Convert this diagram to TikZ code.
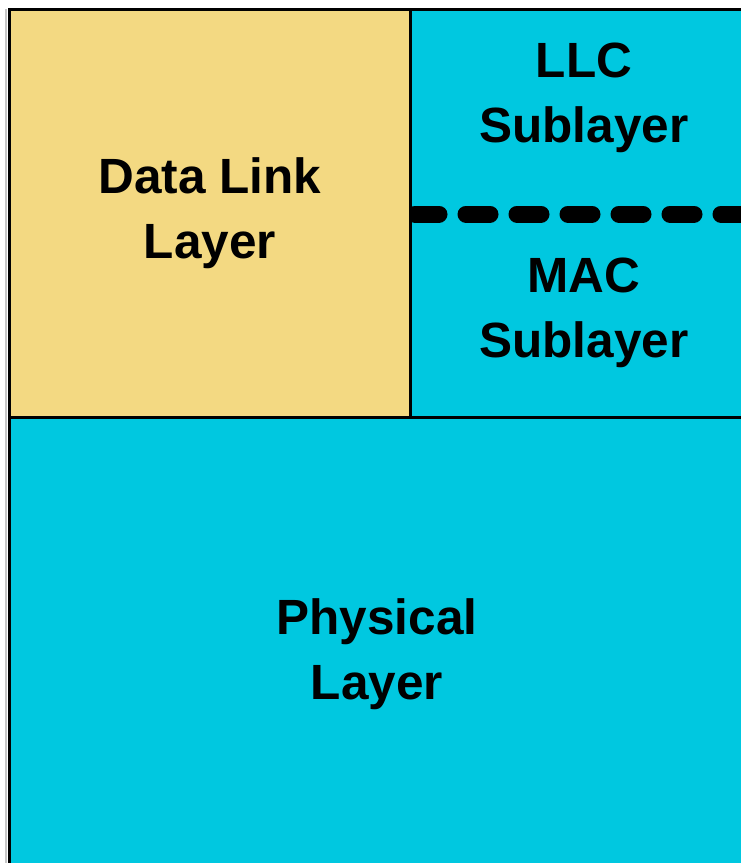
\documentclass[tikz,border=0pt]{standalone}
\usepackage{fontspec}
\setmainfont{Liberation Sans}
\definecolor{dlyellow}{RGB}{243,217,130}
\definecolor{layercyan}{RGB}{0,200,224}
\begin{document}
\begin{tikzpicture}[x=1pt,y=-1pt,
  layerbox/.style={draw=black,line width=3.5pt},
  lbl/.style={font=\fontsize{49.5}{65}\selectfont\bfseries,align=center,text=black,inner sep=0pt,anchor=base}]
\useasboundingbox (0,0) rectangle (741,863);
\begin{scope}
\clip (0,0) rectangle (741,863);
% faint shadow along the left edge
\draw[gray!45,line width=2.5pt] (6,9) -- (6,870);
% data link layer block
\filldraw[layerbox,fill=dlyellow] (9.5,9.5) rectangle (410.5,417.5);
% sublayer block (runs past the right edge)
\filldraw[layerbox,fill=layercyan] (410.5,9.5) rectangle (760,417.5);
% physical layer block (runs past the bottom and right edges)
\filldraw[layerbox,fill=layercyan] (9.5,417.5) rectangle (760,880);
\end{scope}
% boundary between LLC and MAC, kept inside the sublayer block
\begin{scope}
\clip (412,0) rectangle (741,863);
\coordinate (divL) at (415,214);
\coordinate (divR) at (760,214);
\draw[black,line width=17pt,line cap=round,dash pattern=on 24pt off 27pt] (divL) -- (divR);
\end{scope}
\node[lbl] (dll) at (210,258) {Data Link\\Layer};
\node[lbl] (llc) at (584,142) {LLC\\Sublayer};
\node[lbl] (mac) at (584,357) {MAC\\Sublayer};
\node[lbl] (phy) at (377,699) {Physical\\Layer};
\end{tikzpicture}
\end{document}
